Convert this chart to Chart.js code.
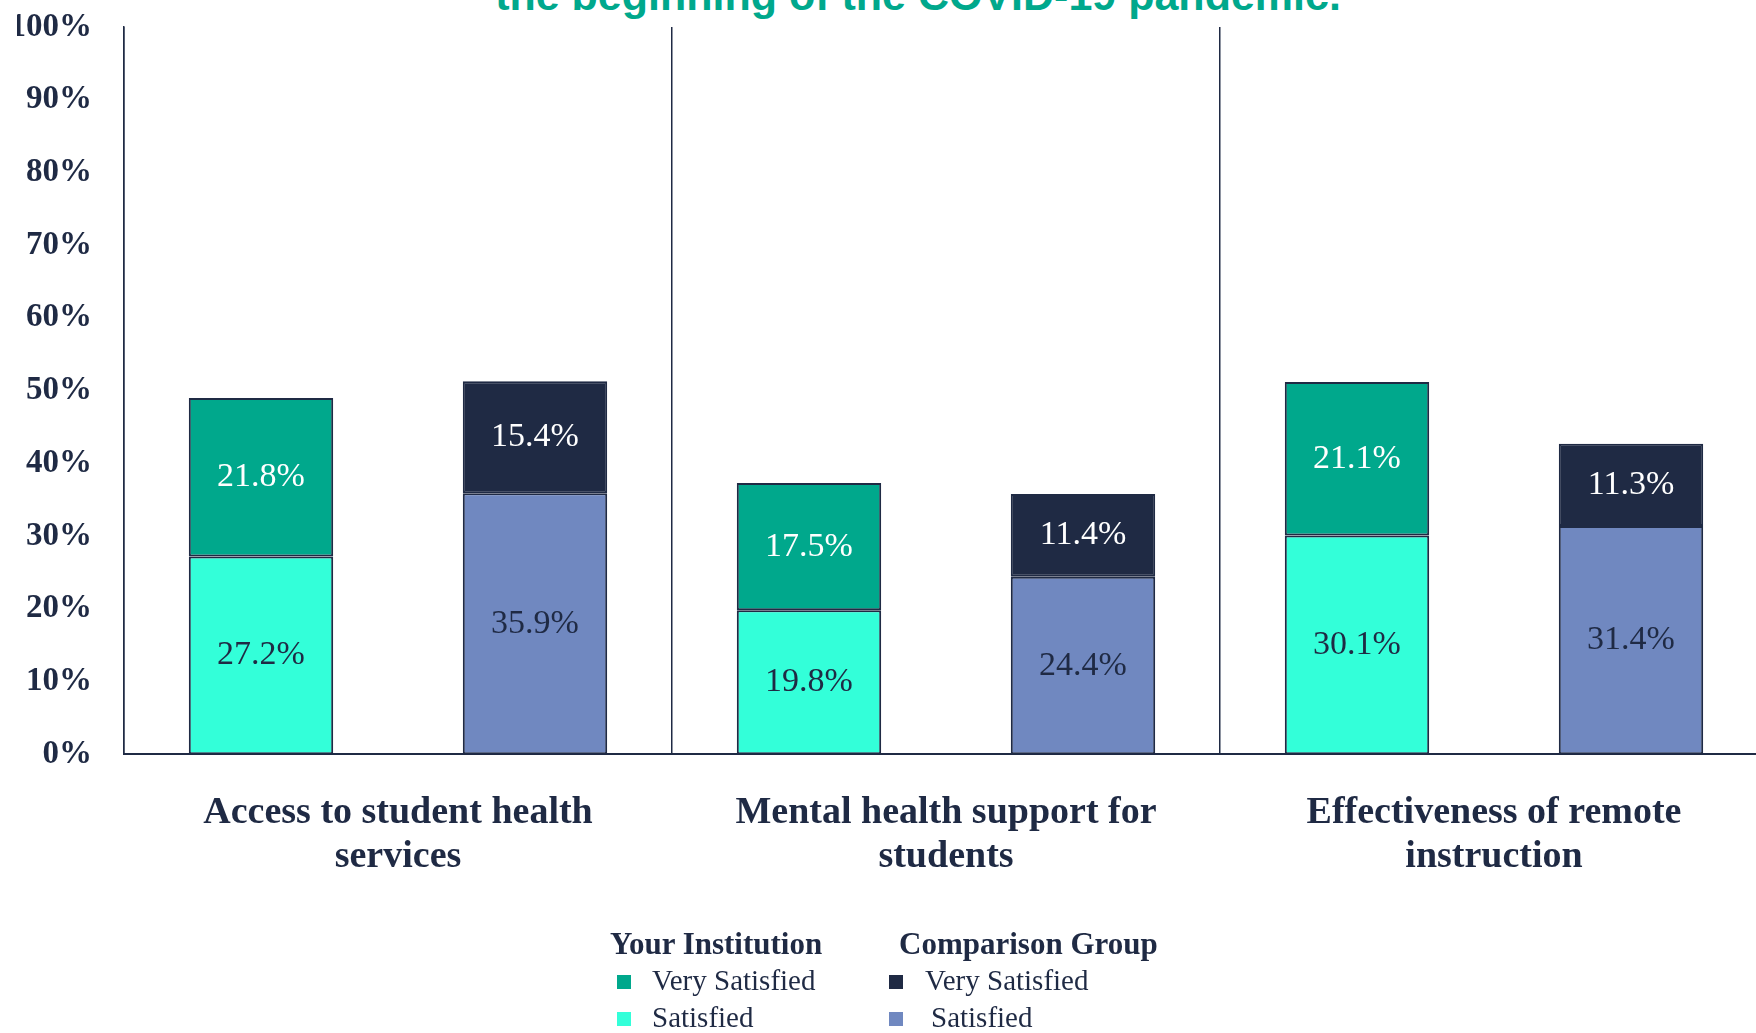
<!DOCTYPE html>
<html>
<head>
    <title>Satisfaction since the beginning of the COVID-19 pandemic</title>
    <style>
        body { margin: 0; background: #fff; overflow: hidden; width: 1756px; height: 1033px; position: relative; }
        #chartWrap { position: absolute; left: 0; top: 0; width: 1800px; height: 1033px; }
        #chartTitle { position: absolute; left: 0; top: -26px; width: 1836px; text-align: center; white-space: nowrap;
                      font-family: "Liberation Sans", sans-serif; font-weight: bold; font-size: 43px; line-height: 43px; color: #00A88C; }
        .legendCol { position: absolute; top: 925px; left: 0; font-family: "Liberation Serif", serif; color: #1F2A44; font-size: 29px; line-height: 37px; }
        .legendHead { font-weight: bold; font-size: 31px; white-space: nowrap; }
        .legendItem { position: relative; white-space: nowrap; }
        .legendItem span.box { position: absolute; top: 13px; width: 14px; height: 14px; }
    </style>
    <script src="https://cdn.jsdelivr.net/npm/chart.js"></script>
</head>
<body>

    <div id="chartTitle">the beginning of the COVID-19 pandemic.</div>
    <div id="chartWrap">
        <canvas id="satisfactionChart"></canvas>
    </div>
    <div id="legend"></div>

    <script>
        const categories = [
            ["Access to student health", "services"],
            ["Mental health support for", "students"],
            ["Effectiveness of remote", "instruction"]
        ];
        const yourSatisfied = [27.2, 19.8, 30.1];
        const yourVerySatisfied = [21.8, 17.5, 21.1];
        const compSatisfied = [35.9, 24.4, 31.4];
        const compVerySatisfied = [15.4, 11.4, 11.3];
        const legendGroups = ["Your Institution", "Comparison Group"];

        const navy = '#1F2A44';

        // value labels in the middle of each segment
        const barLabels = {
            id: 'barLabels',
            afterDatasetsDraw(chart) {
                const ctx = chart.ctx;
                ctx.save();
                ctx.font = '34px "Liberation Serif"';
                ctx.textAlign = 'center';
                ctx.textBaseline = 'middle';
                chart.data.datasets.forEach((ds, i) => {
                    const meta = chart.getDatasetMeta(i);
                    if (meta.hidden) return;
                    meta.data.forEach((bar, j) => {
                        ctx.fillStyle = ds.labelColor;
                        ctx.fillText(ds.data[j].toFixed(1) + '%', bar.x, (bar.y + bar.base) / 2);
                    });
                });
                ctx.restore();
            }
        };

        const ctx = document.getElementById('satisfactionChart').getContext('2d');
        const chart = new Chart(ctx, {
            type: 'bar',
            data: {
                labels: categories,
                datasets: [
                    { label: 'Satisfied', group: 0, stack: 'yours', data: yourSatisfied, backgroundColor: '#33FFD9', labelColor: navy },
                    { label: 'Very Satisfied', group: 0, stack: 'yours', data: yourVerySatisfied, backgroundColor: '#00A88C', labelColor: '#FFFFFF' },
                    { label: 'Satisfied', group: 1, stack: 'comp', data: compSatisfied, backgroundColor: '#7088C0', labelColor: navy },
                    { label: 'Very Satisfied', group: 1, stack: 'comp', data: compVerySatisfied, backgroundColor: '#1F2A44', labelColor: '#FFFFFF' }
                ]
            },
            options: {
                responsive: true,
                maintainAspectRatio: false,
                animation: false,
                datasets: {
                    bar: {
                        borderColor: navy,
                        borderWidth: 2,
                        borderSkipped: false,
                        categoryPercentage: 1,
                        barPercentage: 0.527
                    }
                },
                layout: {
                    padding: { left: 17, right: 32, top: 27, bottom: 117 }
                },
                plugins: {
                    legend: { display: false }
                },
                scales: {
                    x: {
                        stacked: true,
                        grid: { display: true, color: navy, lineWidth: 1.5, drawTicks: false, offset: true },
                        border: { display: true, color: navy, width: 2 },
                        ticks: {
                            color: navy,
                            padding: 36,
                            maxRotation: 0,
                            autoSkip: false,
                            font: { family: 'Liberation Serif', size: 38, weight: 'bold', lineHeight: 1.18 }
                        }
                    },
                    y: {
                        stacked: true,
                        min: 0,
                        max: 100,
                        grid: { display: false },
                        border: { display: true, color: navy, width: 1.5 },
                        afterFit: scale => {
                            scale.width = 107;
                            scale.paddingTop = 0;
                            scale.paddingBottom = 0;
                        },
                        ticks: {
                            stepSize: 10,
                            color: navy,
                            padding: 24,
                            font: { family: 'Liberation Serif', size: 33, weight: 'bold' },
                            callback: v => v + '%'
                        }
                    }
                }
            },
            plugins: [barLabels]
        });

        // legend: one column per group, header then its series (top segment first)
        const legendPos = [
            { head: 610, box: 617, text: [652, 652] },
            { head: 899, box: 889, text: [925, 931] }
        ];
        const legendEl = document.getElementById('legend');
        legendGroups.forEach((name, g) => {
            const col = document.createElement('div');
            col.className = 'legendCol';
            const head = document.createElement('div');
            head.className = 'legendHead';
            head.style.marginLeft = legendPos[g].head + 'px';
            head.textContent = name;
            col.appendChild(head);
            chart.data.datasets.filter(ds => ds.group === g).reverse().forEach((ds, k) => {
                const row = document.createElement('div');
                row.className = 'legendItem';
                const box = document.createElement('span');
                box.className = 'box';
                box.style.left = legendPos[g].box + 'px';
                box.style.background = ds.backgroundColor;
                const txt = document.createElement('span');
                txt.style.marginLeft = legendPos[g].text[k] + 'px';
                txt.textContent = ds.label;
                row.appendChild(box);
                row.appendChild(txt);
                col.appendChild(row);
            });
            legendEl.appendChild(col);
        });
    </script>

</body>
</html>
